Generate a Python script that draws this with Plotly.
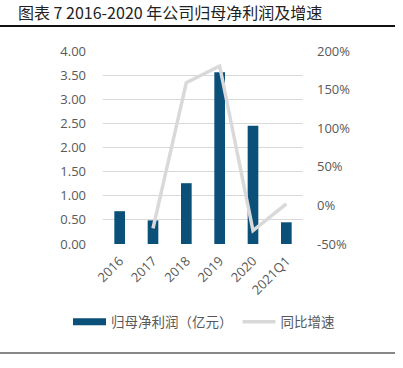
import plotly.graph_objects as go

categories = ["2016", "2017", "2018", "2019", "2020", "2021Q1"]
profit = [0.68, 0.49, 1.26, 3.56, 2.45, 0.45]
growth_cats = ["2017", "2018", "2019", "2020", "2021Q1"]
growth = [-29.7, 159, 180.6, -32.7, 2]

left_ticks = [0, 0.5, 1, 1.5, 2, 2.5, 3, 3.5, 4]
left_labels = ["0.00", "0.50", "1.00", "1.50", "2.00", "2.50", "3.00", "3.50", "4.00"]
right_ticks = [-50, 0, 50, 100, 150, 200]
right_labels = ["-50%", "0%", "50%", "100%", "150%", "200%"]

tick_font = dict(family="Open Sans, Liberation Sans, sans-serif", size=13, color="#595959")
cjk = "Noto Sans CJK SC"
bar_color = "#0b5079"

fig = go.Figure()
fig.add_trace(go.Bar(x=categories, y=profit, name="归母净利润（亿元）", showlegend=False,
                     marker=dict(color=bar_color, line=dict(width=0)), width=0.32))
# legend proxy giving the wide flat swatch of the original
fig.add_trace(go.Scatter(x=[None], y=[None], name="归母净利润（亿元）", mode="lines",
                         line=dict(color=bar_color, width=7), hoverinfo="skip"))
fig.add_trace(go.Scatter(x=growth_cats, y=growth, name="同比增速", yaxis="y2",
                         mode="lines", line=dict(color="#d9d9d9", width=3.5)))

fig.update_layout(
    width=403, height=368,
    margin=dict(l=103, r=100, t=51, b=124, autoexpand=False),
    paper_bgcolor="white", plot_bgcolor="white",
    showlegend=True,
    legend=dict(orientation="h", x=(68-103)/200, xanchor="left", xref="paper",
                y=(244-322)/193, yref="paper", yanchor="middle",
                font=dict(family=cjk, size=13.5, color="#595959"),
                itemwidth=33, tracegroupgap=0),
    xaxis=dict(type="category", tickangle=-45, tickfont=tick_font, showgrid=False,
               showline=False, ticks="", ticklabelstandoff=6),
    yaxis=dict(range=[0, 4], tickvals=left_ticks, ticktext=left_labels, tickfont=tick_font,
               showgrid=True, gridcolor="#d9d9d9", gridwidth=1, zeroline=False,
               showline=False, ticks="", ticklabelstandoff=16),
    yaxis2=dict(range=[-50, 200], tickvals=right_ticks, ticktext=right_labels, tickfont=tick_font,
                overlaying="y", side="right", showgrid=False, zeroline=False,
                showline=False, ticks="", ticklabelstandoff=13),
    title=dict(text="图表 7 2016-2020 年公司归母净利润及增速", x=18/403, xanchor="left",
               xref="container", y=1-13/368, yanchor="middle", yref="container",
               font=dict(family=cjk, size=16, color="#222222")),
    shapes=[
        dict(type="line", xref="paper", yref="paper", x0=-0.515, x1=1.46,
             y0=(244-26)/193, y1=(244-26)/193, line=dict(color="#111111", width=2)),
        dict(type="line", xref="paper", yref="paper", x0=-0.515, x1=1.46,
             y0=(244-353)/193, y1=(244-353)/193, line=dict(color="#111111", width=1)),
    ],
)

fig.write_html("out.html", config={"displayModeBar": False},
               post_script="document.body.style.margin='0';")
